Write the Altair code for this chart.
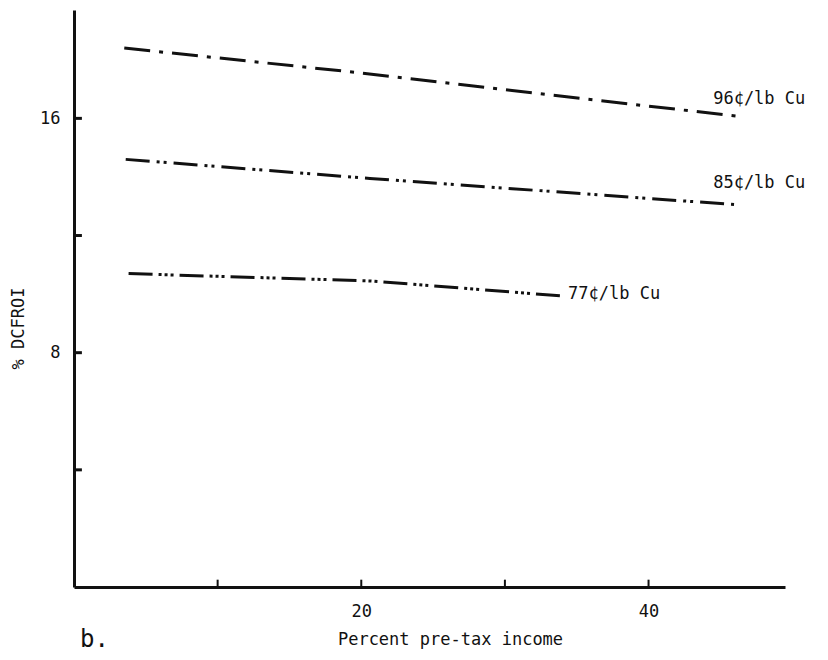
import altair as alt
import pandas as pd

# data
x96 = [3.5, 20.0, 30.5, 46.6]
y96 = [18.4, 17.55, 16.95, 16.05]
x85 = [3.6, 20.6, 30.5, 46.2]
y85 = [14.6, 13.95, 13.6, 13.05]
x77 = [3.8, 20.6, 34.1]
y77 = [10.7, 10.45, 9.93]

series_names = ["96¢/lb Cu", "85¢/lb Cu", "77¢/lb Cu"]
label_x = [44.5, 44.5, 34.4]
label_y = [16.65, 13.8, 10.0]

y_ticks = [4, 8, 12, 16]
x_ticks = [10, 20, 30, 40]

FONT = "DejaVu Sans Mono"
INK = "#111111"

xs = alt.Scale(domain=[0, 49.5], nice=False, zero=False)
ys = alt.Scale(domain=[0, 19.7], nice=False, zero=False)

dashes = [[26, 9, 4, 9], [24, 7, 3, 4, 3, 7], [24, 6, 3, 3, 3, 3, 3, 6]]

layers = []
for xv, yv, d in zip([x96, x85, x77], [y96, y85, y77], dashes):
    df = pd.DataFrame({"x": xv, "y": yv})
    layers.append(
        alt.Chart(df).mark_line(color=INK, strokeWidth=3, strokeDash=d).encode(
            x=alt.X("x:Q", scale=xs,
                    axis=alt.Axis(values=x_ticks, labelExpr="datum.value % 20 == 0 ? datum.label : ''",
                                  ticks=False, grid=False, domainWidth=3, domainColor=INK,
                                  labelFont=FONT, labelFontSize=17, labelColor=INK, labelPadding=16,
                                  title="Percent pre-tax income", titleFont=FONT, titleFontSize=17,
                                  titleFontWeight="normal", titleColor=INK, titlePadding=12, titleX=450 - 74)),
            y=alt.Y("y:Q", scale=ys,
                    axis=alt.Axis(values=y_ticks, labelExpr="datum.value % 8 == 0 ? datum.label : ''",
                                  ticks=False, grid=False, domainWidth=3, domainColor=INK,
                                  labelFont=FONT, labelFontSize=17, labelColor=INK, labelPadding=14,
                                  title="% DCFROI", titleFont=FONT, titleFontSize=17, titleY=318,
                                  titleFontWeight="normal", titleColor=INK, titlePadding=12)),
        )
    )

lab = pd.DataFrame({"x": label_x, "y": label_y, "t": series_names})
layers.append(
    alt.Chart(lab).mark_text(align="left", baseline="middle", font=FONT, fontSize=17, color=INK).encode(
        x=alt.X("x:Q", scale=xs), y=alt.Y("y:Q", scale=ys), text="t:N")
)

yt = pd.DataFrame({"y": y_ticks, "x0": [0] * 4, "x1": [0.55] * 4})
layers.append(
    alt.Chart(yt).mark_rule(color=INK, strokeWidth=3).encode(
        x=alt.X("x0:Q", scale=xs), x2="x1:Q", y=alt.Y("y:Q", scale=ys))
)
xt = pd.DataFrame({"x": x_ticks, "y0": [0] * 4, "y1": [0.25] * 4})
layers.append(
    alt.Chart(xt).mark_rule(color=INK, strokeWidth=2).encode(
        x=alt.X("x:Q", scale=xs), y=alt.Y("y0:Q", scale=ys), y2="y1:Q")
)

bdf = pd.DataFrame({"t": ["b."]})
layers.append(
    alt.Chart(bdf).mark_text(align="left", baseline="middle", font=FONT, fontSize=24, color=INK).encode(
        x=alt.value(6), y=alt.value(630), text="t:N")
)

chart = alt.layer(*layers).properties(
    width=711, height=577,
    padding={"left": 66, "top": 2, "right": 35, "bottom": 65},
    autosize=alt.AutoSizeParams(type="none"),
    background="white",
).configure_view(stroke=None)

chart.save("out.html", embed_options={"renderer": "svg", "actions": False})
